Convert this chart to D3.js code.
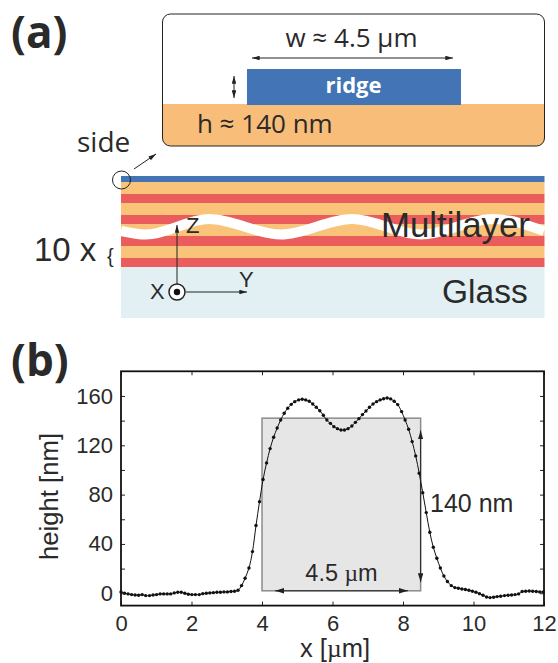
<!DOCTYPE html>
<html>
<head>
<meta charset="utf-8">
<script src="https://cdn.jsdelivr.net/npm/d3@7"></script>
<style>
  body { margin: 0; background: white; }
  svg { display: block; }
  text { font-family: "Liberation Sans", Arial, sans-serif; fill: #2a2a2a; }
  .myriad { font-family: "Open Sans", sans-serif; }
  .symbol { font-family: "Liberation Serif", serif; }
</style>
</head>
<body>
<div id="chart"></div>
<script>
// profile readings, x in um and height in nm
const xValues = [
  0.00,0.10,0.20,0.30,0.40,0.50,0.60,0.70,0.81,0.91,1.01,1.11,1.21,1.31,1.41,1.51,1.61,1.71,1.81,1.91,
  2.01,2.11,2.22,2.32,2.42,2.52,2.62,2.72,2.82,2.92,3.02,3.12,3.22,3.32,3.42,3.52,3.63,3.73,3.83,3.93,
  4.03,4.13,4.23,4.33,4.43,4.53,4.63,4.73,4.83,4.93,5.04,5.14,5.24,5.34,5.44,5.54,5.64,5.74,5.84,5.94,
  6.04,6.14,6.24,6.34,6.44,6.55,6.65,6.75,6.85,6.95,7.05,7.15,7.25,7.35,7.45,7.55,7.65,7.75,7.85,7.96,
  8.06,8.16,8.26,8.36,8.46,8.56,8.66,8.76,8.86,8.96,9.06,9.16,9.26,9.37,9.47,9.57,9.67,9.77,9.87,9.97,
  10.07,10.17,10.27,10.37,10.47,10.57,10.67,10.77,10.88,10.98,11.08,11.18,11.28,11.38,11.48,11.58,11.68,11.78,11.88,11.98
];
const heightValues = [
  1.1,0,-0.5,-1.1,-1.4,-1.6,-1.1,-1.9,-1.9,-1.4,-1.1,-0.5,-0.5,-0.5,-0.5,0.3,0.8,0.8,0,-0.8,
  -1.1,-1.1,-1.1,-0.3,0,0.3,0.5,0.8,0.8,1.1,1.1,1.4,1.6,2.4,6.2,12.2,20.5,33.8,54.9,74.3,
  92.2,105.7,117.3,126.5,134,140.5,146,150,153.2,155.4,156.8,157.3,156.8,155.7,153.5,150.8,148,144.3,140.5,137.8,
  135.1,133.5,132.4,132.4,133.5,135.7,138.6,141.6,144.9,147.8,150.8,153.5,155.4,156.8,157.8,158.4,157.6,155.7,153,147.3,
  140.5,133,123,111.4,97.3,81.6,65.4,49.5,37.3,28.4,20.5,14,9.5,6.2,4.6,4.1,3.5,3,2.4,1.6,
  0.8,-0.3,-1.6,-3,-3.5,-3.2,-2.7,-2.4,-1.9,-1.6,-1.4,-1.1,-0.5,1.4,1.6,1.9,1.6,1.4,1.1,1.1
];
const xTicks = [0, 2, 4, 6, 8, 10, 12];
const yTicks = [0, 20, 40, 60, 80, 100, 120, 140, 160];
const yTickLabels = [0, 40, 80, 120, 160];
const ridgeBox = [4, 8.5, 2, 142]; // x0, x1, h0, h1

// multilayer stack, top to bottom
const layerNames = ["ridge", "a", "b", "a", "b", "a", "b", "a", "b", "glass"];
const layerThickness = [6, 12, 9, 12, 9, 12, 10, 12, 9, 51];
const layerColors = {ridge: "#4374b5", a: "#f9c47a", b: "#eb5c5c", glass: "#e2f0f4"};
const waveX = [121, 146, 209, 281, 352, 421, 493, 544];
const waveY = [231, 234.5, 219, 234.5, 219, 234.5, 219, 231];

const width = 558, height = 663;
const svg = d3.select("#chart").append("svg")
  .attr("width", width).attr("height", height)
  .attr("viewBox", [0, 0, width, height]);

const defs = svg.append("defs");
defs.append("marker")
  .attr("id", "head").attr("viewBox", "0 0 10 6")
  .attr("refX", 10).attr("refY", 3)
  .attr("markerUnits", "userSpaceOnUse")
  .attr("markerWidth", 8).attr("markerHeight", 4.6)
  .attr("orient", "auto-start-reverse")
  .append("path").attr("d", "M0,0L10,3L0,6Z").attr("fill", "#222");
defs.append("marker")
  .attr("id", "bighead").attr("viewBox", "0 0 10 6")
  .attr("refX", 10).attr("refY", 3)
  .attr("markerUnits", "userSpaceOnUse")
  .attr("markerWidth", 9).attr("markerHeight", 5.4)
  .attr("orient", "auto-start-reverse")
  .append("path").attr("d", "M0,0L10,3L0,6Z").attr("fill", "#222");

function arrow(x1, y1, x2, y2, both, id) {
  const m = id || "head";
  const l = svg.append("line")
    .attr("x1", x1).attr("y1", y1).attr("x2", x2).attr("y2", y2)
    .attr("stroke", "#222").attr("stroke-width", 1)
    .attr("marker-end", `url(#${m})`);
  if (both) l.attr("marker-start", `url(#${m})`);
}

function label(x, y, str, size, anchor) {
  return svg.append("text")
    .attr("x", x).attr("y", y)
    .attr("font-size", size)
    .attr("text-anchor", anchor || "start")
    .text(str);
}

// text with the mu set in a serif, like the symbol font of the plot labels
function muLabel(x, y, before, after, size) {
  const t = svg.append("text")
    .attr("x", x).attr("y", y)
    .attr("font-size", size)
    .attr("text-anchor", "middle");
  t.append("tspan").text(before);
  t.append("tspan").attr("class", "symbol").text("µ");
  t.append("tspan").text(after);
  return t;
}

// panel (a), inset
const clipId = "boxclip";
defs.append("clipPath").attr("id", clipId).append("rect")
  .attr("x", 162.5).attr("y", 14).attr("width", 382).attr("height", 132).attr("rx", 8);
svg.append("rect").attr("x", 162.5).attr("y", 104).attr("width", 382).attr("height", 42)
  .attr("fill", "#f8bd78").attr("clip-path", `url(#${clipId})`);
svg.append("rect").attr("x", 162.5).attr("y", 14).attr("width", 382).attr("height", 132).attr("rx", 8)
  .attr("fill", "none").attr("stroke", "#222").attr("stroke-width", 1);
svg.append("rect").attr("x", 247).attr("y", 69).attr("width", 214).attr("height", 36)
  .attr("fill", layerColors.ridge);
label(353.5, 93, "ridge", 22, "middle").attr("class", "myriad")
  .attr("font-weight", "bold").style("fill", "white");
label(351.5, 47, "w ≈ 4.5 µm", 26, "middle").attr("class", "myriad");
label(197, 133, "h ≈ 140 nm", 26).attr("class", "myriad");
arrow(252, 58, 453, 58, true);
arrow(234, 76, 234, 98, true);
label(77, 152, "side", 28).attr("class", "myriad");
arrow(134, 169, 156, 154);

// panel (a), stack
const stackY = d3.scaleLinear().domain([0, d3.sum(layerThickness)]).range([176, 318]);
const stackTop = d3.cumsum(layerThickness);
svg.append("g").selectAll("rect").data(layerNames).join("rect")
  .attr("x", 121).attr("width", 423.5)
  .attr("y", (d, i) => stackY(i ? stackTop[i - 1] : 0))
  .attr("height", (d, i) => stackY(layerThickness[i]) - stackY(0))
  .attr("fill", d => layerColors[d]);

const waveLine = d3.line().x((d, i) => waveX[i]).y(d => d).curve(d3.curveMonotoneX);
svg.append("path").attr("d", waveLine(waveY))
  .attr("fill", "none").attr("stroke", "white").attr("stroke-width", 10);

svg.append("circle").attr("cx", 121.5).attr("cy", 180).attr("r", 9)
  .attr("fill", "none").attr("stroke", "#222").attr("stroke-width", 1);

label(34, 261, "10 x", 33);
label(107, 263, "{", 20);
label(381, 237, "Multilayer", 34.8);
label(442, 303, "Glass", 33.5);

arrow(177, 284, 177, 225);
arrow(186, 292, 247, 292);
svg.append("circle").attr("cx", 177).attr("cy", 292).attr("r", 8)
  .attr("fill", "white").attr("stroke", "#222").attr("stroke-width", 1.5);
svg.append("circle").attr("cx", 177).attr("cy", 292).attr("r", 3.2).attr("fill", "#111");
label(186, 233, "Z", 22);
label(239, 287, "Y", 22);
label(150, 299, "X", 22);

label(11, 48, "(a)", 44).attr("class", "myriad").attr("font-weight", "bold");
label(11, 376, "(b)", 44).attr("class", "myriad").attr("font-weight", "bold");

// panel (b)
const x = d3.scaleLinear().domain([0, 12]).range([121, 544]);
const y = d3.scaleLinear().domain([-10, 180]).range([605.6, 371.3]);

svg.append("rect")
  .attr("x", x(ridgeBox[0])).attr("y", y(ridgeBox[3]))
  .attr("width", x(ridgeBox[1]) - x(ridgeBox[0]))
  .attr("height", y(ridgeBox[2]) - y(ridgeBox[3]))
  .attr("fill", "#e6e6e6").attr("stroke", "#8c8c8c").attr("stroke-width", 1.5);

const profile = d3.line().x((d, i) => x(xValues[i])).y(d => y(d)).curve(d3.curveCatmullRom);
svg.append("path").attr("d", profile(heightValues))
  .attr("fill", "none").attr("stroke", "#111").attr("stroke-width", 1);
svg.append("g").selectAll("circle").data(heightValues).join("circle")
  .attr("cx", (d, i) => x(xValues[i])).attr("cy", d => y(d))
  .attr("r", 1.7).attr("fill", "#111");

const tick = 4;
function styleAxis(g) {
  g.select(".domain").remove();
  g.selectAll("line").attr("stroke", "#222");
  g.selectAll("text").attr("font-size", 22).attr("fill", "#2a2a2a")
    .style("font-family", '"Liberation Sans", Arial, sans-serif');
}
svg.append("g").attr("transform", `translate(0,${y.range()[0]})`)
  .call(d3.axisBottom(x).tickValues(xTicks).tickSize(-tick).tickPadding(10))
  .call(styleAxis);
svg.append("g").attr("transform", `translate(0,${y.range()[1]})`)
  .call(d3.axisTop(x).tickValues(xTicks).tickSize(-tick).tickFormat(""))
  .call(styleAxis);
svg.append("g").attr("transform", `translate(${x.range()[0]},0)`)
  .call(d3.axisLeft(y).tickValues(yTicks).tickSize(-tick).tickPadding(8)
    .tickFormat(d => yTickLabels.includes(d) ? d : ""))
  .call(styleAxis);
svg.append("g").attr("transform", `translate(${x.range()[1]},0)`)
  .call(d3.axisRight(y).tickValues(yTicks).tickSize(-tick).tickFormat(""))
  .call(styleAxis);
svg.append("rect")
  .attr("x", x.range()[0]).attr("y", y.range()[1])
  .attr("width", x.range()[1] - x.range()[0]).attr("height", y.range()[0] - y.range()[1])
  .attr("fill", "none").attr("stroke", "#111").attr("stroke-width", 1.8);

arrow(x(4.37), y(ridgeBox[2]), x(8.14), y(ridgeBox[2]), true, "bighead");
arrow(x(ridgeBox[1]), y(132), x(ridgeBox[1]), y(9), true, "bighead");
muLabel(341.5, 581, "4.5 ", "m", 23.5);
label(430, 512, "140 nm", 25);
muLabel(335, 657, "x [", "m]", 25.5);
svg.append("text").attr("transform", "translate(58,496.5) rotate(-90)")
  .attr("font-size", 25.7).attr("text-anchor", "middle").text("height [nm]");
</script>
</body>
</html>
